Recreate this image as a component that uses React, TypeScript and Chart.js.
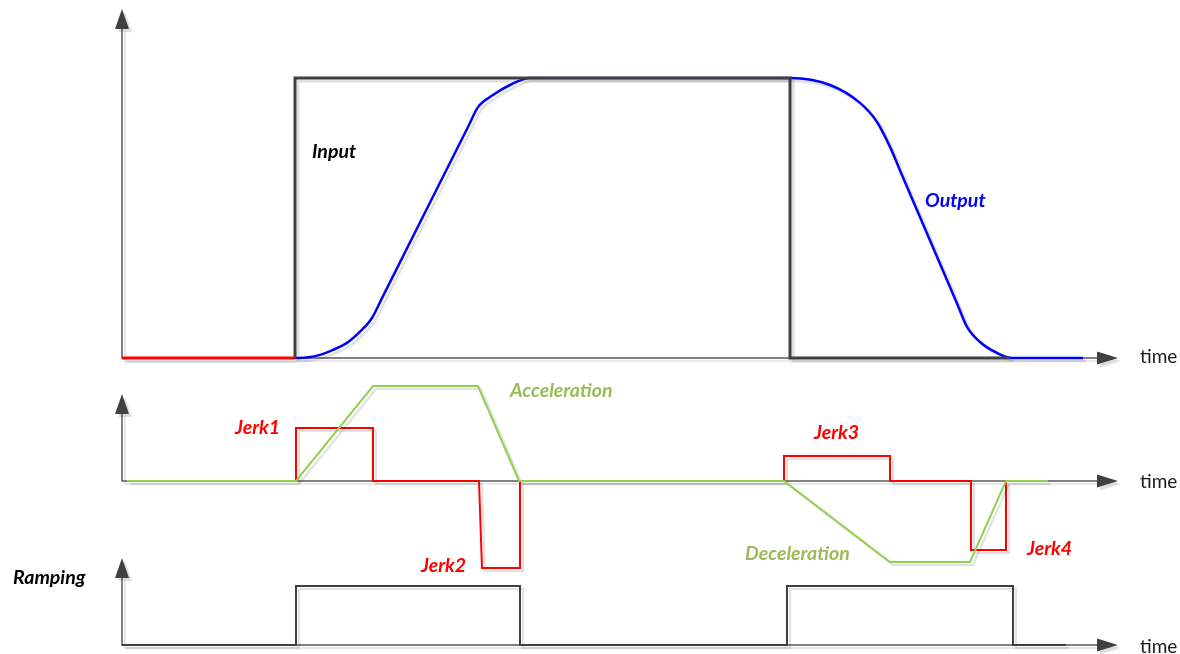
import React, { useEffect, useRef } from "react";
import { Chart, registerables } from "chart.js";

Chart.register(...registerables);

// ---- Data (time in arbitrary units, signals in arbitrary units) ----
const inputSignal: [number, number][] = [
  [0, 0], [17.3, 0], [17.3, 1], [66.8, 1], [66.8, 0], [88.8, 0],
];
const outputSignal: [number, number][] = [
  [17.3, 0], [18.5, 0.002], [19.8, 0.011], [21.1, 0.029], [22.5, 0.054],
  [23.8, 0.094], [25.0, 0.143], [26.0, 0.214], [34.6, 0.825], [35.6, 0.896],
  [37.1, 0.939], [38.8, 0.975], [40.8, 1.0], [66.8, 1.0], [70.8, 0.975],
  [73.8, 0.911], [75.5, 0.843], [76.8, 0.754], [77.8, 0.670], [83.5, 0.195],
  [84.5, 0.111], [85.8, 0.057], [87.5, 0.018], [89.0, 0], [96.1, 0],
];
const acceleration: [number, number][] = [
  [0.5, 0], [17.4, 0], [25.1, 9.5], [35.6, 9.5], [39.7, 0], [66.2, 0],
  [76.8, -8.1], [84.8, -8.1], [88.4, 0], [92.6, 0],
];
const jerk: [number, number][] = [
  [17.4, 0], [17.4, 5.3], [25.1, 5.3], [25.1, 0], [35.7, 0], [36.0, -8.7],
  [39.8, -8.7], [39.8, 0], [66.2, 0], [66.2, 2.5], [76.8, 2.5], [76.8, 0],
  [84.9, 0], [84.9, -6.9], [88.4, -6.9], [88.4, 0],
];
const ramping: [number, number][] = [
  [0, 0], [17.4, 0], [17.4, 1], [39.8, 1], [39.8, 0], [66.5, 0],
  [66.5, 1], [89.1, 1], [89.1, 0], [94.4, 0],
];
const axisLabels = ["time", "time", "time"];
const signalLabels = ["Input", "Output", "Acceleration", "Deceleration", "Jerk1", "Jerk2", "Jerk3", "Jerk4", "Ramping"];

// ---- Layout (pixels) ----
const W = 1180;
const H = 654;
const panels = [
  { id: "y1", baseline: 358, unit: 280, arrowTop: 9, labelY: 357 },
  { id: "y2", baseline: 481, unit: 10, arrowTop: 394, labelY: 482 },
  { id: "y3", baseline: 645, unit: 59, arrowTop: 558, labelY: 647 },
];
const labelStyles = [
  { x: 312, y: 152, color: "#000000" },
  { x: 925, y: 201, color: "#0000FF" },
  { x: 510, y: 391, color: "#9BBB59" },
  { x: 745, y: 554, color: "#9BBB59" },
  { x: 235, y: 428, color: "#FF0000" },
  { x: 421, y: 566, color: "#FF0000" },
  { x: 814, y: 433, color: "#FF0000" },
  { x: 1027, y: 549, color: "#FF0000" },
  { x: 13, y: 578, color: "#000000" },
];

const toPts = (a: [number, number][]) => a.map(([x, y]) => ({ x, y }));

const SHADOW = "rgba(0,0,0,0.13)";

const shadowPlugin = {
  id: "shadowPlugin",
  beforeDatasetDraw(chart: any) {
    const ctx = chart.ctx;
    ctx.shadowColor = SHADOW;
    ctx.shadowOffsetX = 3;
    ctx.shadowOffsetY = 3;
    ctx.shadowBlur = 1;
  },
  afterDatasetDraw(chart: any) {
    const ctx = chart.ctx;
    ctx.shadowColor = "rgba(0,0,0,0)";
    ctx.shadowOffsetX = 0;
    ctx.shadowOffsetY = 0;
    ctx.shadowBlur = 0;
  },
};

const axesPlugin = {
  id: "axesPlugin",
  beforeDatasetsDraw(chart: any) {
    const ctx = chart.ctx;
    const xs = chart.scales.x;
    const x0 = xs.getPixelForValue(0);
    const xTip = chart.chartArea.right;
    ctx.save();
    ctx.shadowColor = SHADOW;
    ctx.shadowOffsetX = 3;
    ctx.shadowOffsetY = 3;
    ctx.shadowBlur = 1;
    panels.forEach((p) => {
      const ys = chart.scales[p.id];
      const yb = ys.getPixelForValue(0);
      const yTip = p.arrowTop;
      ctx.strokeStyle = "#595959";
      ctx.lineWidth = 1.5;
      ctx.beginPath();
      ctx.moveTo(x0, yTip + 18);
      ctx.lineTo(x0, yb);
      ctx.lineTo(xTip - 20, yb);
      ctx.stroke();
      ctx.fillStyle = "#404040";
      ctx.beginPath();
      ctx.moveTo(x0, yTip);
      ctx.lineTo(x0 - 7, yTip + 20);
      ctx.lineTo(x0 + 7, yTip + 20);
      ctx.closePath();
      ctx.fill();
      ctx.beginPath();
      ctx.moveTo(xTip, yb);
      ctx.lineTo(xTip - 21, yb - 6.5);
      ctx.lineTo(xTip - 21, yb + 6.5);
      ctx.closePath();
      ctx.fill();
    });
    ctx.restore();
  },
  afterDraw(chart: any) {
    const ctx = chart.ctx;
    ctx.save();
    ctx.textBaseline = "middle";
    ctx.textAlign = "left";
    ctx.fillStyle = "#1a1a1a";
    ctx.font = "19px Lato, 'Open Sans', sans-serif";
    panels.forEach((p, i) => {
      ctx.fillText(axisLabels[i], 1140, p.labelY);
    });
    ctx.font = "italic bold 19.5px Lato, 'Open Sans', sans-serif";
    signalLabels.forEach((t, i) => {
      const s = labelStyles[i];
      ctx.fillStyle = s.color;
      ctx.fillText(t, s.x, s.y);
    });
    ctx.restore();
  },
};

export default function App() {
  const ref = useRef<HTMLCanvasElement | null>(null);
  useEffect(() => {
    if (!ref.current) return;
    const yScale = (p: (typeof panels)[number]) => ({
      type: "linear" as const,
      display: false,
      bounds: "data" as const,
      min: -(H - p.baseline) / p.unit,
      max: p.baseline / p.unit,
    });
    const common = {
      pointRadius: 0,
      fill: false,
      tension: 0,
      clip: false as any,
      borderJoinStyle: "miter" as const,
      borderCapStyle: "butt" as const,
    };
    const chart = new Chart(ref.current, {
      type: "line",
      data: {
        datasets: [
          {
            ...common,
            label: "Input",
            data: toPts(inputSignal),
            yAxisID: "y1",
            borderColor: "#404040",
            borderWidth: 3,
            segment: {
              borderColor: (c: any) => (c.p0DataIndex === 0 ? "#FF0000" : "#404040"),
            },
          },
          {
            ...common,
            label: "Output",
            data: toPts(outputSignal),
            yAxisID: "y1",
            borderColor: "#0000FF",
            borderWidth: 2.5,
            cubicInterpolationMode: "monotone",
            borderJoinStyle: "round",
          },
          {
            ...common,
            label: "Acceleration",
            data: toPts(acceleration),
            yAxisID: "y2",
            borderColor: "#92D050",
            borderWidth: 2,
          },
          {
            ...common,
            label: "Jerk",
            data: toPts(jerk),
            yAxisID: "y2",
            borderColor: "#FF0000",
            borderWidth: 2,
          },
          {
            ...common,
            label: "Ramping",
            data: toPts(ramping),
            yAxisID: "y3",
            borderColor: "#404040",
            borderWidth: 2,
          },
        ],
      },
      options: {
        responsive: false,
        animation: false,
        devicePixelRatio: 1,
        events: [],
        layout: { padding: { left: 122, right: 62, top: 0, bottom: 0 } },
        plugins: { legend: { display: false }, tooltip: { enabled: false } },
        scales: {
          x: { type: "linear", display: false, min: 0, max: 99.6 },
          y1: yScale(panels[0]),
          y2: yScale(panels[1]),
          y3: yScale(panels[2]),
        },
      } as any,
      plugins: [shadowPlugin, axesPlugin],
    });
    return () => chart.destroy();
  }, []);
  return (
    <div style={{ position: "fixed", left: 0, top: 0, width: W, height: H, background: "#fff" }}>
      <canvas ref={ref} width={W} height={H} style={{ display: "block", width: W, height: H }} />
    </div>
  );
}
